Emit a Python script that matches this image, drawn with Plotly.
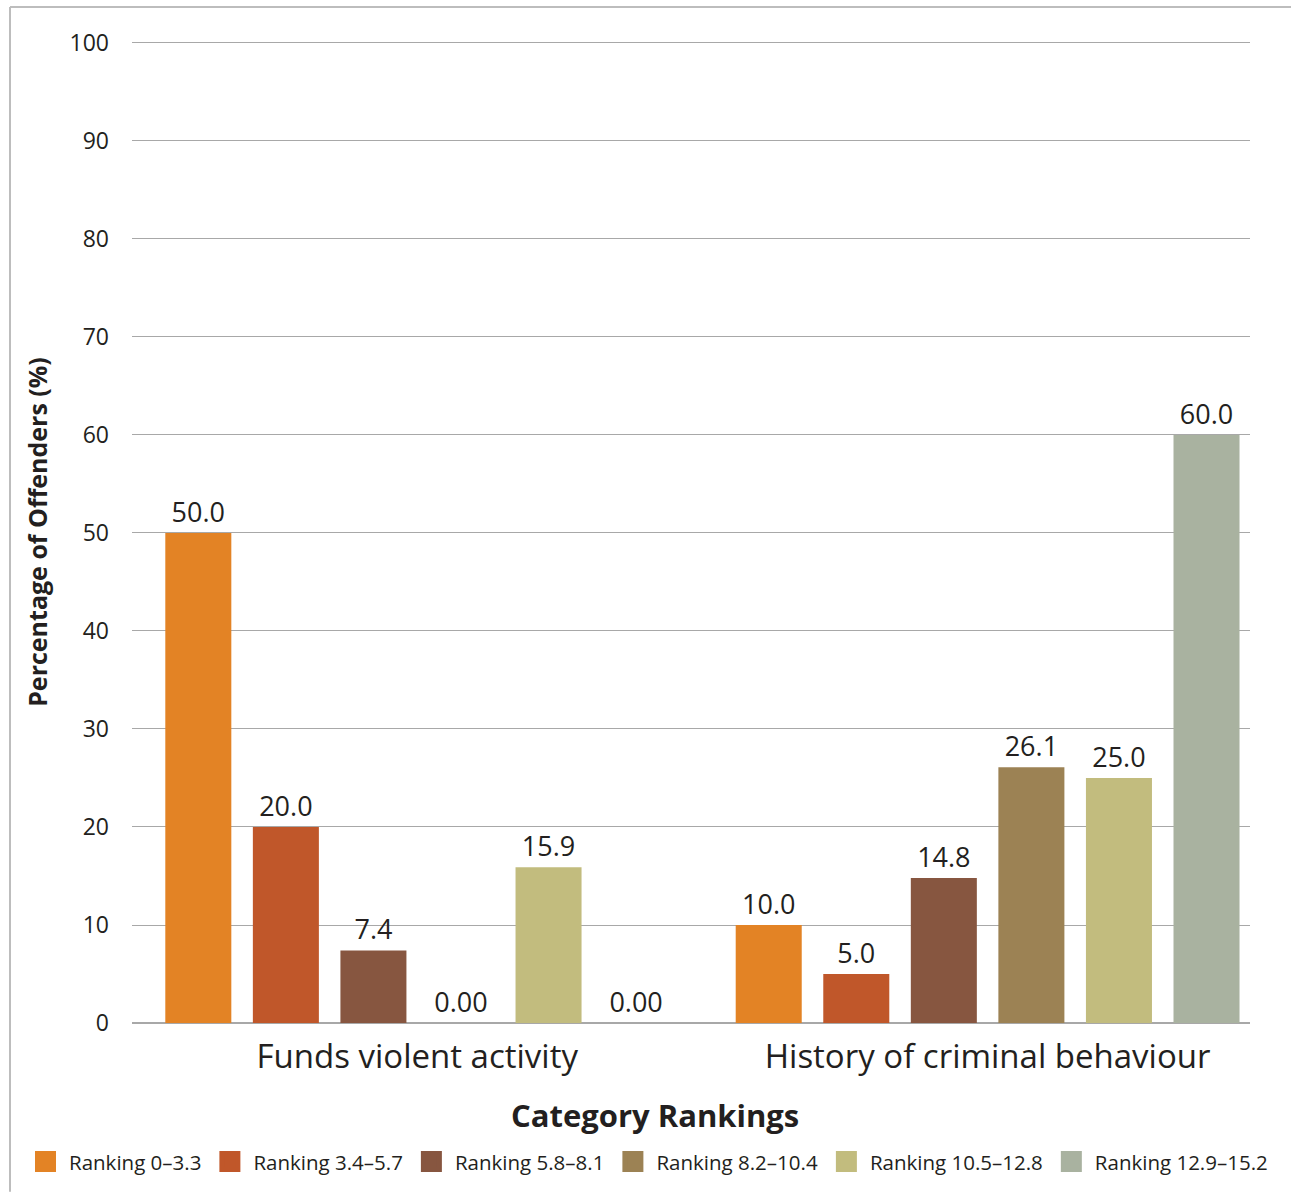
import plotly.graph_objects as go

# Categories and ranking bands
categories = ["Funds violent activity", "History of criminal behaviour"]
series_names = [
    "Ranking 0–3.3",
    "Ranking 3.4–5.7",
    "Ranking 5.8–8.1",
    "Ranking 8.2–10.4",
    "Ranking 10.5–12.8",
    "Ranking 12.9–15.2",
]
series_colors = ["#E38325", "#C0572A", "#875640", "#9C8254", "#C2BC7E", "#A9B2A0"]

# Percentage of offenders per ranking band (one value per category)
rank_0_33 = [50.0, 10.0]
rank_34_57 = [20.0, 5.0]
rank_58_81 = [7.4, 14.8]
rank_82_104 = [0.0, 26.1]
rank_105_128 = [15.9, 25.0]
rank_129_152 = [0.0, 60.0]

# Printed labels above each bar
labels_0_33 = ["50.0", "10.0"]
labels_34_57 = ["20.0", "5.0"]
labels_58_81 = ["7.4", "14.8"]
labels_82_104 = ["0.00", "26.1"]
labels_105_128 = ["15.9", "25.0"]
labels_129_152 = ["0.00", "60.0"]

values = [rank_0_33, rank_34_57, rank_58_81, rank_82_104, rank_105_128, rank_129_152]
labels = [labels_0_33, labels_34_57, labels_58_81, labels_82_104, labels_105_128, labels_129_152]

FONT = "'Open Sans', Lato, sans-serif"
TEXT = "#231F20"

fig = go.Figure()
for name, color, vals, labs in zip(series_names, series_colors, values, labels):
    fig.add_trace(go.Bar(
        x=categories, y=vals, name=name, marker_color=color,
        marker_line_width=0,
        text=labs, textposition="outside", cliponaxis=False,
        textfont=dict(family=FONT, size=27, color=TEXT),
        showlegend=False, legendgroup=name,
    ))
    # larger square swatch for the legend entry
    fig.add_trace(go.Scatter(
        x=[None], y=[None], mode="markers", name=name, legendgroup=name,
        marker=dict(symbol="square", size=16, color=color,
                    line=dict(color=color, width=5)),
        showlegend=True,
    ))

L, R, T, B = 132, 41, 41, 169
W, H = 1291, 1194
pw = W - L - R
ph = H - T - B

def px_to_paper_x(px):
    return (px - L) / pw

def px_to_paper_y(py):
    return (H - B - py) / ph

fig.update_layout(
    width=W, height=H,
    margin=dict(l=L, r=R, t=T, b=B),
    paper_bgcolor="white", plot_bgcolor="white",
    barmode="group", bargap=0.079, bargroupgap=0.246,
    font=dict(family=FONT, color=TEXT),
    xaxis=dict(
        range=[-0.5, 1.46], showgrid=False,
        showline=False, zeroline=False,
        tickfont=dict(family=FONT, size=33, color=TEXT),
        ticks="", ticklabelstandoff=11,
    ),
    yaxis=dict(
        range=[0, 100.2], dtick=10, tick0=0,
        showgrid=True, gridcolor="#A8A8A8", gridwidth=1.3,
        zeroline=True, zerolinecolor="#A8A8A8", zerolinewidth=1.5,
        showline=False, ticks="",
        tickfont=dict(family=FONT, size=23, color=TEXT),
        ticklabelstandoff=22,
        title=dict(text="<b>Percentage of Offenders (%)</b>",
                   font=dict(family=FONT, size=25, color=TEXT), standoff=14),
    ),
    legend=dict(
        orientation="h", x=px_to_paper_x(22), xanchor="left",
        y=px_to_paper_y(1164), yanchor="middle",
        font=dict(family=FONT, size=20.5, color=TEXT),
        itemwidth=37, tracegroupgap=0, traceorder="normal",
        bgcolor="rgba(0,0,0,0)",
    ),
)

# X-axis title, centred on the figure
fig.add_annotation(
    text="<b>Category Rankings</b>", xref="paper", yref="paper",
    x=px_to_paper_x(655), y=px_to_paper_y(1117), xanchor="center", yanchor="middle",
    showarrow=False, font=dict(family=FONT, size=31, color=TEXT),
)

# Frame around the figure (left and top edges)
top_y = px_to_paper_y(7)
fig.add_shape(type="line", xref="paper", yref="paper",
              x0=px_to_paper_x(10), x1=px_to_paper_x(W), y0=top_y, y1=top_y,
              line=dict(color="#BDBDBD", width=2))
fig.add_shape(type="line", xref="paper", yref="paper",
              x0=px_to_paper_x(10), x1=px_to_paper_x(10), y0=top_y, y1=px_to_paper_y(H),
              line=dict(color="#BDBDBD", width=2))

fig.write_html("out.html")
